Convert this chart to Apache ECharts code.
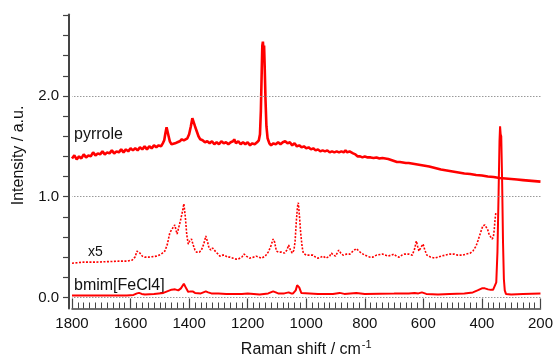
<!DOCTYPE html>
<html>
<head>
<meta charset="utf-8">
<script src="https://cdn.jsdelivr.net/npm/echarts@6/dist/echarts.min.js"></script>
<style>html,body{margin:0;padding:0;background:#fff}#c{width:556px;height:363px}</style>
</head>
<body>
<div id="c"></div>
<script>
// ---- data ----
const xTicks = [1800, 1600, 1400, 1200, 1000, 800, 600, 400, 200];
const yTickLabels = [0, 1, 2];
const gridLevels = [0, 1, 2];

const pyrroleShift = [1800,1792,1784,1776,1768,1760,1752,1744,1736,1728,1720,1712,1704,1696,1688,1680,1672,1664,1656,1648,1640,1632,1624,1616,1608,1600,1592,1584,1576,1568,1560,1552,1544,1536,1528,1520,1512,1504,1496,1490,1485,1481,1477,1474,1470,1466,1460,1454,1448,1440,1432,1425,1418,1412,1406,1400,1394,1389,1385,1380,1374,1368,1362,1354,1346,1338,1330,1322,1314,1306,1298,1290,1282,1274,1266,1258,1250,1246,1240,1232,1224,1216,1208,1200,1192,1184,1176,1168,1162,1158,1155,1152,1150,1148,1146,1144,1142,1139,1136,1132,1126,1120,1112,1104,1096,1088,1080,1072,1064,1056,1048,1040,1032,1024,1016,1008,1000,992,984,976,968,960,952,944,936,928,920,912,904,896,888,880,872,866,860,852,846,840,832,824,816,808,800,790,780,770,760,750,740,730,720,710,700,690,680,670,660,650,640,630,620,600,580,560,540,520,500,480,460,440,420,400,380,360,340,320,300,280,260,240,220,200];
const pyrroleIntensity = [1.38,1.41,1.37,1.40,1.38,1.42,1.39,1.41,1.40,1.44,1.41,1.43,1.42,1.45,1.42,1.44,1.43,1.46,1.43,1.45,1.44,1.47,1.44,1.47,1.45,1.48,1.46,1.48,1.46,1.49,1.47,1.50,1.47,1.50,1.48,1.51,1.49,1.51,1.50,1.53,1.56,1.63,1.69,1.68,1.60,1.55,1.52,1.51,1.53,1.54,1.55,1.57,1.56,1.55,1.58,1.62,1.70,1.78,1.77,1.70,1.65,1.60,1.57,1.56,1.54,1.55,1.53,1.55,1.52,1.54,1.52,1.55,1.53,1.54,1.52,1.54,1.55,1.57,1.53,1.55,1.52,1.54,1.52,1.54,1.51,1.53,1.52,1.54,1.56,1.62,1.85,2.25,2.50,2.54,2.45,2.50,2.30,1.95,1.70,1.58,1.53,1.51,1.53,1.52,1.54,1.52,1.54,1.55,1.53,1.54,1.51,1.53,1.50,1.51,1.49,1.50,1.48,1.49,1.47,1.48,1.46,1.47,1.45,1.46,1.45,1.46,1.44,1.45,1.44,1.45,1.44,1.45,1.44,1.46,1.44,1.45,1.44,1.43,1.42,1.40,1.40,1.39,1.40,1.39,1.39,1.385,1.39,1.38,1.385,1.38,1.375,1.365,1.355,1.345,1.345,1.34,1.335,1.335,1.33,1.325,1.32,1.31,1.30,1.285,1.27,1.26,1.25,1.24,1.23,1.225,1.215,1.21,1.20,1.195,1.185,1.18,1.175,1.17,1.165,1.16,1.155,1.15];

const x5Shift = [1800,1760,1720,1680,1640,1613,1595,1585,1578,1574,1568,1560,1551,1540,1525,1511,1495,1483,1475,1466,1458,1449,1444,1441,1435,1429,1423,1418,1413,1408,1403,1398,1392,1386,1380,1375,1365,1358,1350,1343,1337,1332,1326,1320,1315,1308,1301,1295,1285,1278,1270,1261,1250,1240,1233,1220,1212,1205,1193,1180,1171,1162,1153,1140,1130,1122,1113,1108,1102,1094,1085,1074,1066,1060,1054,1048,1042,1038,1034,1030,1027,1023,1019,1014,1010,1000,994,985,977,968,960,950,943,932,920,914,907,900,889,882,874,862,851,840,829,820,812,800,795,783,772,760,740,730,721,710,701,692,683,673,664,650,638,630,624,619,615,608,601,595,588,575,561,550,539,525,510,495,482,465,454,440,431,420,414,405,397,390,385,380,376,370,365,361,358,355,352];
const x5Intensity = [0.34,0.35,0.35,0.355,0.36,0.36,0.37,0.40,0.46,0.47,0.44,0.41,0.40,0.40,0.405,0.41,0.43,0.46,0.52,0.64,0.68,0.72,0.66,0.63,0.70,0.77,0.85,0.93,0.80,0.62,0.53,0.56,0.58,0.52,0.47,0.45,0.45,0.47,0.53,0.61,0.55,0.49,0.47,0.49,0.48,0.45,0.43,0.41,0.42,0.42,0.40,0.40,0.39,0.38,0.38,0.40,0.43,0.41,0.39,0.40,0.41,0.40,0.39,0.41,0.45,0.50,0.58,0.55,0.46,0.45,0.45,0.44,0.47,0.52,0.47,0.44,0.47,0.56,0.75,0.90,0.94,0.80,0.64,0.50,0.44,0.42,0.41,0.42,0.42,0.40,0.39,0.40,0.41,0.39,0.41,0.44,0.42,0.41,0.47,0.44,0.42,0.43,0.43,0.46,0.485,0.46,0.44,0.42,0.41,0.40,0.40,0.42,0.43,0.42,0.41,0.42,0.43,0.41,0.40,0.42,0.43,0.43,0.42,0.48,0.56,0.50,0.46,0.50,0.53,0.47,0.42,0.40,0.39,0.40,0.41,0.42,0.43,0.43,0.42,0.42,0.43,0.44,0.46,0.51,0.56,0.64,0.71,0.72,0.72,0.67,0.63,0.60,0.58,0.60,0.67,0.78,0.85];

const bmimShift = [1800,1700,1613,1590,1578,1571,1562,1551,1520,1488,1475,1460,1448,1437,1428,1418,1410,1403,1395,1388,1380,1375,1360,1343,1335,1324,1300,1273,1220,1200,1159,1130,1113,1104,1096,1075,1060,1052,1045,1036,1031,1028,1024,1017,1011,960,909,886,870,829,800,700,650,630,624,617,613,605,599,590,585,550,510,460,431,415,400,390,379,370,362,356,351,347,343,340,338,336,334,331,328,325,322,318,300,260,200];
const bmimIntensity = [0.02,0.02,0.02,0.025,0.04,0.045,0.035,0.03,0.035,0.045,0.06,0.077,0.08,0.07,0.09,0.135,0.09,0.055,0.06,0.06,0.045,0.04,0.04,0.06,0.05,0.04,0.038,0.035,0.035,0.04,0.03,0.04,0.06,0.05,0.04,0.04,0.05,0.04,0.04,0.07,0.12,0.135,0.10,0.045,0.035,0.035,0.035,0.045,0.035,0.045,0.035,0.038,0.04,0.045,0.06,0.04,0.035,0.05,0.055,0.035,0.03,0.03,0.035,0.04,0.05,0.07,0.09,0.09,0.08,0.075,0.075,0.085,0.15,0.45,1.05,1.55,1.70,1.62,1.60,1.15,0.55,0.18,0.07,0.035,0.03,0.035,0.04];

const seriesLabels = ['pyrrole', 'x5', 'bmim[FeCl4]'];
// ---------------------------------------

function pairs(xs, ys) { return xs.map((x, i) => [x, ys[i]]); }
const yMinorTicks = [];
for (let i = 0; i <= 14; i++) yMinorTicks.push(+(i * 0.2).toFixed(1));

const RED = '#ff0000';
const FONT = 'Liberation Sans, Arial';
const chart = echarts.init(document.getElementById('c'), null, {renderer: 'canvas'});
chart.setOption({
  animation: false,
  backgroundColor: '#fff',
  grid: {left: 72, right: 15, top: 14.4, bottom: 50.8},
  xAxis: {
    type: 'value', inverse: true, min: 200, max: 1800, interval: 200,
    axisLine: {show: true, onZero: false, lineStyle: {color: '#444', width: 1.5}},
    axisTick: {show: true, inside: true, length: 10, lineStyle: {color: '#444', width: 1.2}},
    minorTick: {show: true, splitNumber: 10, length: 6, lineStyle: {color: '#444', width: 1}},
    axisLabel: {color: '#111', fontSize: 15, fontFamily: FONT, margin: 8,
      customValues: xTicks, formatter: v => String(v)},
    splitLine: {show: false},
    name: 'Raman shift / cm{sup|-1}', nameLocation: 'middle', nameGap: 31,
    nameTextStyle: {color: '#111', fontSize: 16, fontFamily: FONT,
      rich: {sup: {fontSize: 11, fontFamily: FONT, color: '#111', padding: [0, 0, 10, 1]}}}
  },
  yAxis: {
    type: 'value', min: -0.11, max: 2.81, offset: 3,
    axisLine: {show: true, onZero: false, lineStyle: {color: '#444', width: 2}},
    axisTick: {show: true, inside: false, length: 6, customValues: yMinorTicks, lineStyle: {color: '#444', width: 1.2}},
    axisLabel: {customValues: yTickLabels, formatter: v => Number(v).toFixed(1), color: '#111', fontSize: 15, fontFamily: FONT, margin: 10},
    splitLine: {show: false},
    name: 'Intensity / a.u.', nameLocation: 'middle', nameGap: 42,
    nameTextStyle: {color: '#111', fontSize: 16, fontFamily: FONT, padding: [0, 0, 0, 12]}
  },
  graphic: [
    {type: 'text', left: 74, top: 127, style: {text: seriesLabels[0], fontSize: 16, fontFamily: FONT, fill: '#111'}},
    {type: 'text', left: 88, top: 245, style: {text: seriesLabels[1], fontSize: 14, fontFamily: FONT, fill: '#111'}},
    {type: 'text', left: 74, top: 278, style: {text: seriesLabels[2], fontSize: 16, fontFamily: FONT, fill: '#111'}}
  ],
  series: [
    {type: 'line', data: [], z: 1, silent: true,
     markLine: {silent: true, symbol: 'none', label: {show: false},
       lineStyle: {color: '#999', type: [1.5, 1.5], width: 1},
       data: gridLevels.map(v => ({yAxis: v}))}},
    {name: seriesLabels[1], type: 'line', z: 2, showSymbol: false, data: pairs(x5Shift, x5Intensity),
     lineStyle: {color: RED, width: 1.6, type: [2, 1.5]}},
    {name: seriesLabels[2], type: 'line', z: 3, showSymbol: false, data: pairs(bmimShift, bmimIntensity),
     lineStyle: {color: RED, width: 2}},
    {name: seriesLabels[0], type: 'line', z: 4, showSymbol: false, data: pairs(pyrroleShift, pyrroleIntensity),
     lineStyle: {color: RED, width: 2.6}}
  ]
});
</script>
</body>
</html>
